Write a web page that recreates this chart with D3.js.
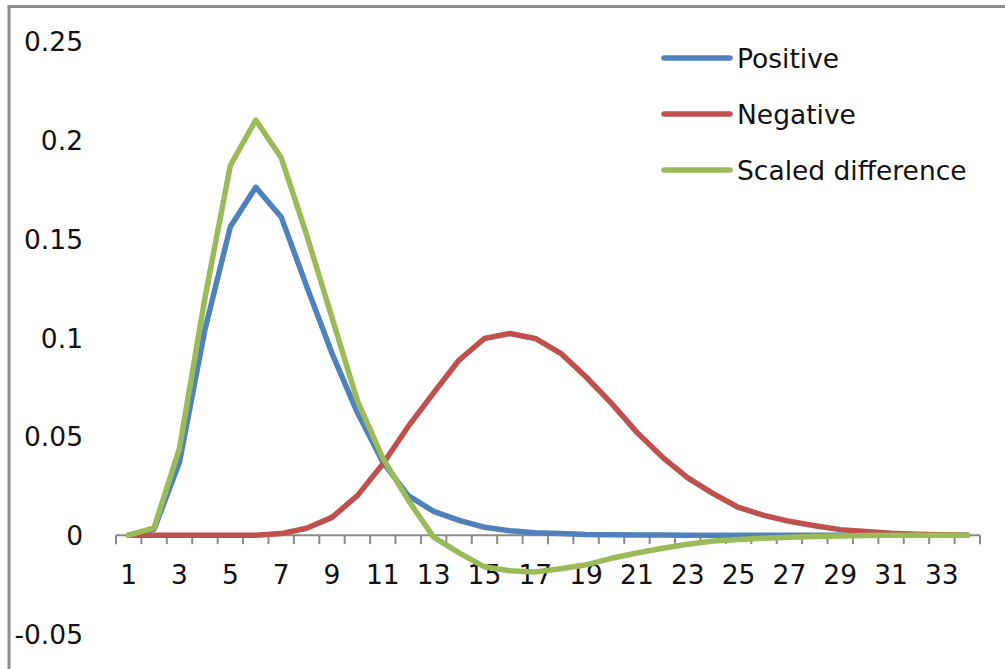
<!DOCTYPE html>
<html>
<head>
<meta charset="utf-8">
<script src="https://cdn.jsdelivr.net/npm/d3@7"></script>
<style>
  html, body { margin: 0; padding: 0; background: #fff; }
  svg { display: block; }
  text { font-family: "DejaVu Sans", sans-serif; fill: #111; }
</style>
</head>
<body>
<svg id="chart" width="1005" height="669"></svg>
<script>
const categories = d3.range(1, 35);
const positive = [0, 0.003, 0.037, 0.104, 0.156, 0.176, 0.161, 0.126, 0.092, 0.062, 0.037, 0.02, 0.012, 0.0075, 0.004, 0.0022, 0.0012, 0.0008, 0.0003, 0.0002, 0.0001, 0.0001, 0, 0, 0, 0, 0, 0, 0, 0, 0, 0, 0, 0];
const negative = [0, 0, 0, 0, 0, 0, 0.0008, 0.0035, 0.009, 0.02, 0.036, 0.055, 0.072, 0.0886, 0.0995, 0.102, 0.0995, 0.092, 0.08, 0.0667, 0.052, 0.0395, 0.029, 0.021, 0.014, 0.01, 0.007, 0.0048, 0.0028, 0.0018, 0.001, 0.0005, 0.0002, 0];
const scaledDiff = [0, 0.0037, 0.044, 0.12, 0.187, 0.21, 0.191, 0.152, 0.11, 0.068, 0.039, 0.0177, -0.001, -0.009, -0.016, -0.018, -0.0186, -0.017, -0.015, -0.0117, -0.009, -0.0066, -0.0046, -0.003, -0.0022, -0.0015, -0.001, -0.0007, -0.0004, -0.0002, -0.0001, 0, 0, 0];
const yTicks = [-0.05, 0, 0.05, 0.1, 0.15, 0.2, 0.25];
const xTickLabels = categories.filter(c => c % 2 === 1);
const seriesNames = ["Positive", "Negative", "Scaled difference"];
const seriesColors = ["#4F81BD", "#C0504D", "#9BBB59"];

const series = [positive, negative, scaledDiff];

const svg = d3.select("#chart");

// outer border (top + left visible)
svg.append("line").attr("x1", 9).attr("x2", 1005).attr("y1", 6.5).attr("y2", 6.5)
  .attr("stroke", "#8c8c8c").attr("stroke-width", 3);
svg.append("line").attr("x1", 9).attr("x2", 9).attr("y1", 5).attr("y2", 669)
  .attr("stroke", "#8c8c8c").attr("stroke-width", 3);

const x = d3.scaleBand().domain(categories).range([116, 980]).padding(0);
const y = d3.scaleLinear().domain([-0.05, 0.25]).range([634, 41]);
const cx = d => x(d) + x.bandwidth() / 2;

// y-axis labels (no axis line)
const fmt = v => v === 0 ? "0" : String(+v.toFixed(2));
const yAxis = d3.axisLeft(y).tickValues(yTicks).tickFormat(fmt).tickSize(0).tickPadding(0);
const yg = svg.append("g").attr("transform", "translate(83,0)").call(yAxis);
yg.select(".domain").remove();
yg.selectAll("text").attr("font-size", 26.5).attr("font-family", "DejaVu Sans, sans-serif")
  .attr("fill", "#111").attr("dy", "0.36em").attr("x", 0);

// x-axis at y=0
const y0 = y(0);
const xg = svg.append("g");
xg.append("line").attr("x1", x(1)).attr("x2", x(34) + x.bandwidth())
  .attr("y1", y0).attr("y2", y0).attr("stroke", "#8a8a8a").attr("stroke-width", 2);
const boundaries = categories.map(c => x(c)).concat([x(34) + x.bandwidth()]);
xg.selectAll("line.tick").data(boundaries).join("line").attr("class", "tick")
  .attr("x1", d => d).attr("x2", d => d).attr("y1", y0).attr("y2", y0 + 9)
  .attr("stroke", "#8a8a8a").attr("stroke-width", 2);
xg.selectAll("text").data(xTickLabels).join("text")
  .attr("x", d => cx(d)).attr("y", 584).attr("text-anchor", "middle")
  .attr("font-size", 26.5).text(d => d);

// lines
const line = d3.line().x((d, i) => cx(categories[i])).y(d => y(d));
series.forEach((s, k) => {
  svg.append("path").datum(s).attr("d", line).attr("fill", "none")
    .attr("stroke", seriesColors[k]).attr("stroke-width", 5.5)
    .attr("stroke-linejoin", "round").attr("stroke-linecap", "round");
});

// legend
const lg = svg.append("g");
seriesNames.forEach((name, k) => {
  const ly = 58 + k * 56;
  lg.append("line").attr("x1", 664).attr("x2", 730).attr("y1", ly).attr("y2", ly)
    .attr("stroke", seriesColors[k]).attr("stroke-width", 5.5).attr("stroke-linecap", "round");
  lg.append("text").attr("x", 737).attr("y", ly).attr("dy", "0.36em")
    .attr("font-size", 26.5).text(name);
});
</script>
</body>
</html>
